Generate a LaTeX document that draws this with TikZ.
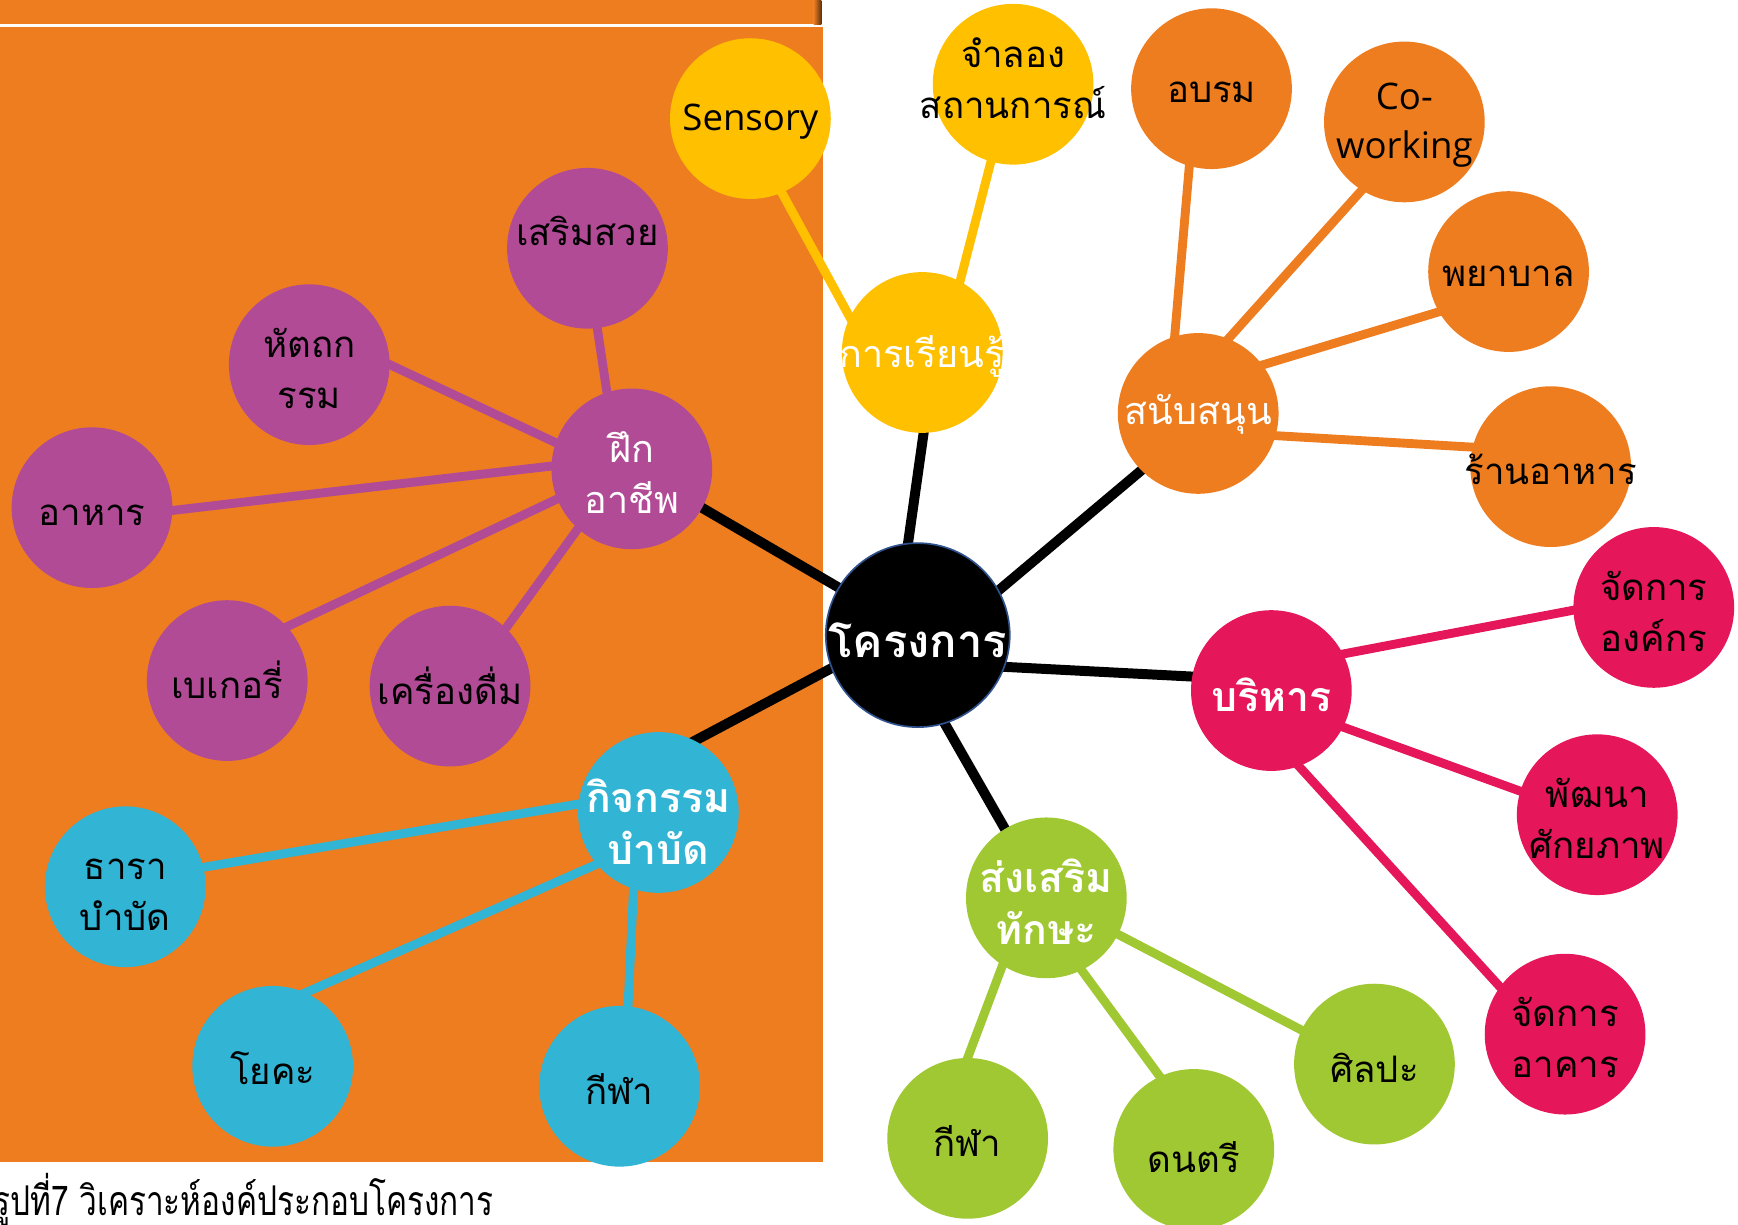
\documentclass[tikz,border=0pt]{standalone}
\usepackage{fontspec}
\usepackage{graphicx}
\newfontfamily\thai[Script=Thai]{Loma}
\newfontfamily\latin{Open Sans}
\definecolor{cOrange}{RGB}{238,125,32}
\definecolor{cYellow}{RGB}{255,192,0}
\definecolor{cMagenta}{RGB}{229,22,90}
\definecolor{cGreen}{RGB}{160,200,50}
\definecolor{cCyan}{RGB}{50,180,212}
\definecolor{cPurple}{RGB}{178,75,150}
\definecolor{cBorder}{RGB}{47,82,143}
% fixed-height struts so every line sits at the same place in its circle;
% the optional argument lifts the text by that amount
\newcommand\zl[2][0pt]{\makebox[0pt]{\rule[\dimexpr-0.5em-#1\relax]{0pt}{2em}#2}}
\newcommand\zll[1]{\makebox[0pt]{\rule[-0.34em]{0pt}{1.34em}#1}}
\newcommand\nolsl{\lineskiplimit-300pt\relax}
\pgfdeclarelayer{back}
\pgfdeclarelayer{lines}
\pgfsetlayers{back,lines,main}
\begin{document}
\begin{tikzpicture}[x=1pt,y=-1pt,
  bub/.style={circle,minimum size=145pt,inner sep=0pt,align=center,text=black,
    font=\thai\fontsize{33}{46}\selectfont\nolsl},
  latinbub/.style={bub,font=\latin\fontsize{33}{45}\selectfont\nolsl},
  hub/.style={bub,text=white,font=\thai\fontsize{34}{46}\selectfont\nolsl},
  hubb/.style={bub,text=white,font=\thai\bfseries\fontsize{37}{47}\selectfont\nolsl},
  conn/.style={line width=8pt,shorten <=-5pt,shorten >=-5pt},
  mainconn/.style={conn,black,line width=9pt}]
\useasboundingbox (0,0) rectangle (1568,1105);
\begin{pgfonlayer}{back}
  \fill[cOrange] (0,0) rectangle (741,21.7);
  \shade[left color=cOrange,right color=cOrange!40!black] (734,0) rectangle (741,21.7);
  \fill[cOrange] (0,24.4) rectangle (742.5,1048.5);
\end{pgfonlayer}
% centre
\node[circle,minimum size=166pt,inner sep=0pt,fill=black,draw=cBorder,line width=1.5pt,
  text=white,font=\thai\bfseries\fontsize{41}{46}\selectfont] (proj) at (828,573) {\zl{โครงการ}};
% learning
\node[hub,fill=cYellow] (learn) at (832,318) {\zl[3pt]{การเรียนรู้}};
\node[latinbub,fill=cYellow] (sens) at (677,107) {\zll{Sensory}};
\node[bub,fill=cYellow] (sim) at (914,76) {\zl[9pt]{จำลอง}\\\zl[9pt]{สถานการณ์}};
% support
\node[hub,fill=cOrange] (supp) at (1081,373) {\zl[7pt]{สนับสนุน}};
\node[bub,fill=cOrange] (train) at (1093,80) {\zl[4pt]{อบรม}};
\node[latinbub,fill=cOrange] (cowork) at (1267,110) {\zll{Co-}\\\zll{working}};
\node[bub,fill=cOrange] (nurse) at (1361,245) {\zl[3pt]{พยาบาล}};
\node[bub,fill=cOrange] (rest) at (1399,421) {\zl{ร้านอาหาร}};
% admin
\node[hubb,fill=cMagenta] (admin) at (1147,623) {\zl{บริหาร}};
\node[bub,fill=cMagenta] (org) at (1492,548) {\zl{จัดการ}\\\zl{องค์กร}};
\node[bub,fill=cMagenta] (dev) at (1441,735) {\zl{พัฒนา}\\\zl{ศักยภาพ}};
\node[bub,fill=cMagenta] (bld) at (1412,933) {\zl{จัดการ}\\\zl{อาคาร}};
% skills
\node[hubb,fill=cGreen] (skill) at (944,810) {\zl{ส่งเสริม}\\\zl{ทักษะ}};
\node[bub,fill=cGreen] (art) at (1240,960) {\zl{ศิลปะ}};
\node[bub,fill=cGreen] (music) at (1077,1037) {\zl[-4pt]{ดนตรี}};
\node[bub,fill=cGreen] (sportg) at (873,1027) {\zl{กีฬา}};
% therapy
\node[hubb,fill=cCyan] (ther) at (594,733) {\zl[-5pt]{กิจกรรม}\\\zl[-5pt]{บำบัด}};
\node[bub,fill=cCyan] (aqua) at (113,800) {\zl{ธารา}\\\zl{บำบัด}};
\node[bub,fill=cCyan] (yoga) at (246,962) {\zl{โยคะ}};
\node[bub,fill=cCyan] (sportc) at (559,980) {\zl{กีฬา}};
% vocational
\node[hub,fill=cPurple] (voc) at (570,423) {\zl{ฝึก}\\\zl{อาชีพ}};
\node[bub,fill=cPurple] (beauty) at (530,224) {\zl[19pt]{เสริมสวย}};
\node[bub,fill=cPurple] (craft) at (279,329) {\zl{หัตถก}\\\zl{รรม}};
\node[bub,fill=cPurple] (food) at (83,458) {\zl{อาหาร}};
\node[bub,fill=cPurple] (bakery) at (205,614) {\zl{เบเกอรี่}};
\node[bub,fill=cPurple] (drink) at (406,619) {\zl{เครื่องดื่ม}};
% caption
\node[anchor=base west,inner sep=0pt,font=\thai\fontsize{37}{40}\selectfont] (cap) at (-6,1097)
  {\scalebox{0.77}[1]{รูปที่7 วิเคราะห์องค์ประกอบโครงการ}};
\begin{pgfonlayer}{lines}
  \draw[mainconn] (proj.96.9) -- (learn.-89.2);
  \draw[mainconn] (proj.29.1) -- (supp.225.6);
  \draw[mainconn] (proj.-20) -- (admin.170.3);
  \draw[mainconn] (proj.-73) -- (skill.121);
  \draw[mainconn] (proj.149.5) -- (voc.-29);
  \draw[mainconn] (proj.201.8) -- (ther.63.1);
  \draw[conn,cYellow] (learn.154.2) -- (sens.-67.6);
  \draw[conn,cYellow] (learn.62.4) -- (sim.-106.3);
  \draw[conn,cOrange] (supp.107.2) -- (train.-106.4);
  \draw[conn,cOrange] (supp.68.5) -- (cowork.-122.2);
  \draw[conn,cOrange] (supp.37.5) -- (nurse.-150.2);
  \draw[conn,cOrange] (supp.-16.2) -- (rest.166.2);
  \draw[conn,cMagenta] (admin.27.6) -- (org.-178.4);
  \draw[conn,cMagenta] (admin.-27.6) -- (dev.163.8);
  \draw[conn,cMagenta] (admin.-70.3) -- (bld.144.9);
  \draw[conn,cGreen] (skill.-27.2) -- (art.155.2);
  \draw[conn,cGreen] (skill.-64.5) -- (music.115.5);
  \draw[conn,cGreen] (skill.-123) -- (sportg.90);
  \draw[conn,cCyan] (ther.174.4) -- (aqua.14.4);
  \draw[conn,cCyan] (ther.-140) -- (yoga.66);
  \draw[conn,cCyan] (ther.-108.2) -- (sportc.84.3);
  \draw[conn,cPurple] (voc.108) -- (beauty.-83.7);
  \draw[conn,cPurple] (voc.161.3) -- (craft.-0.8);
  \draw[conn,cPurple] (voc.178.4) -- (food.-2.3);
  \draw[conn,cPurple] (voc.202.6) -- (bakery.42.8);
  \draw[conn,cPurple] (voc.-132.8) -- (drink.46.1);
\end{pgfonlayer}
\end{tikzpicture}
\end{document}
